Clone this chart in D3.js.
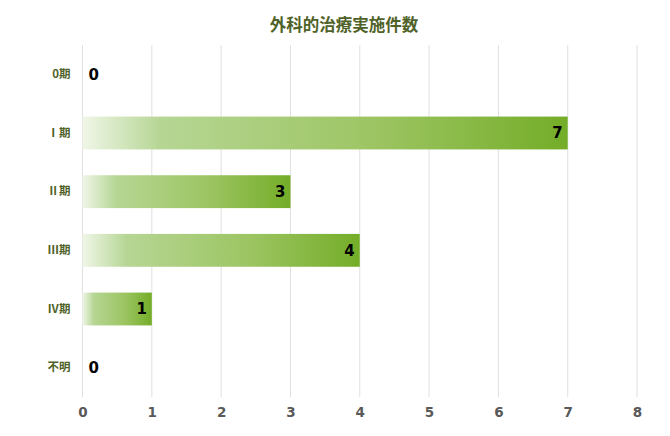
<!DOCTYPE html>
<html><head><meta charset="utf-8">
<script src="https://cdn.jsdelivr.net/npm/d3@7/dist/d3.min.js"></script>
<style>body{margin:0;background:#fff;}svg{display:block;}</style>
</head><body>
<script>
const categories = ["0期", "Ⅰ期", "Ⅱ期", "Ⅲ期", "Ⅳ期", "不明"];
const values = [0, 7, 3, 4, 1, 0];
const xTicks = [0, 1, 2, 3, 4, 5, 6, 7, 8];
const title = "外科的治療実施件数";

const W = 670, H = 436;
const m = {left: 82.5, right: 33, top: 45, bottom: 39};
const svg = d3.select("body").append("svg").attr("width", W).attr("height", H);
const font = "'Noto Sans CJK JP', 'Noto Sans', sans-serif";

const x = d3.scaleLinear().domain([0, 8]).range([m.left, W - m.right]);
const y = d3.scaleBand().domain(categories).range([m.top, H - m.bottom]).paddingInner(0.44).paddingOuter(0.22);

const defs = svg.append("defs");
const g = defs.append("linearGradient").attr("id", "grad").attr("x1", "0%").attr("x2", "100%").attr("y1", "0%").attr("y2", "0%");
[[0, "#f0f6e8"], [0.16, "#b6d694"], [0.6, "#9dc563"], [1, "#74ad28"]].forEach(([o, c]) =>
  g.append("stop").attr("offset", o).attr("stop-color", c));

// gridlines
svg.append("g").selectAll("line").data(xTicks).join("line")
  .attr("x1", d => x(d)).attr("x2", d => x(d))
  .attr("y1", m.top).attr("y2", H - m.bottom)
  .attr("stroke", "#e0e0e0").attr("stroke-width", 1);

// bars
svg.append("g").selectAll("rect").data(values).join("rect")
  .attr("x", x(0)).attr("y", (d, i) => y(categories[i]))
  .attr("width", d => x(d) - x(0)).attr("height", y.bandwidth())
  .attr("fill", "url(#grad)");

// data labels
svg.append("g").selectAll("text").data(values).join("text")
  .attr("x", d => d === 0 ? x(0) + 6 : x(d) - 5)
  .attr("y", (d, i) => y(categories[i]) + y.bandwidth() / 2)
  .attr("dy", "0.36em")
  .attr("text-anchor", d => d === 0 ? "start" : "end")
  .attr("font-family", "Verdana, 'DejaVu Sans', sans-serif").attr("font-weight", "bold")
  .attr("font-size", 15).attr("fill", "#000")
  .text(d => d);

// x axis labels
const xAxis = d3.axisBottom(x).tickValues(xTicks).tickSize(0).tickPadding(10).tickFormat(d3.format("d"));
const xa = svg.append("g").attr("transform", `translate(0,${H - m.bottom})`).call(xAxis);
xa.select(".domain").remove();
xa.selectAll("text").attr("font-family", "Verdana, 'DejaVu Sans', sans-serif").attr("font-weight", "bold")
  .attr("font-size", 13.5).attr("fill", "#595959");

// y axis labels
const yAxis = d3.axisLeft(y).tickSize(0).tickPadding(12);
const ya = svg.append("g").attr("transform", `translate(${m.left},0)`).call(yAxis);
ya.select(".domain").remove();
ya.selectAll("text").attr("font-family", font).attr("font-weight", "bold")
  .attr("font-size", 11.5).attr("fill", "#4f6228");

// title
svg.append("text").attr("x", 344).attr("y", 31).attr("text-anchor", "middle")
  .attr("font-family", font).attr("font-weight", "bold").attr("font-size", 16.5).attr("fill", "#4f6228")
  .text(title);
</script>
</body></html>
